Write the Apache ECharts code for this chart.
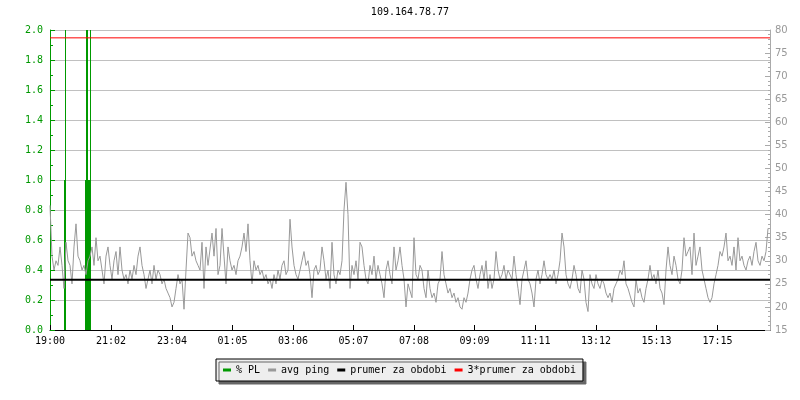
<!DOCTYPE html>
<html>
<head>
<meta charset="utf-8">
<script src="https://cdn.jsdelivr.net/npm/echarts@6/dist/echarts.min.js"></script>
<style>html,body{margin:0;padding:0;background:#fff}#c{width:800px;height:400px}</style>
</head>
<body>
<div id="c"></div>
<script>
// time axis: minutes since 19:00
const tickMinutes = [0, 122, 244, 365, 486, 607, 728, 849, 971, 1092, 1213, 1335];
const tickLabels = ['19:00', '21:02', '23:04', '01:05', '03:06', '05:07', '07:08', '09:09', '11:11', '13:12', '15:13', '17:15'];
const pingStepMinutes = 4;
// avg ping (ms), one value every 4 minutes from 19:00
const pingValues = [
  42, 31, 28, 30, 29, 33, 29, 24, 34, 30,
  29, 25, 33, 38, 31, 30, 28, 29, 27, 30,
  31, 33, 29, 35, 30, 31, 28, 25, 31, 33,
  29, 26, 30, 32, 27, 33, 28, 26, 27, 25,
  28, 26, 29, 27, 31, 33, 29, 27, 24, 26,
  28, 25, 29, 26, 28, 27, 25, 26, 24, 23,
  22, 20, 21, 24, 27, 25, 26, 19.5, 28, 36,
  35, 31, 32, 30, 29, 28, 34, 24, 33, 29,
  29, 36, 31, 37, 27, 29, 37, 31, 25, 33,
  30, 28, 29, 27, 30, 31, 33, 36, 32, 38,
  30, 25, 30, 28, 29, 27, 28, 26, 27, 25,
  26, 24, 27, 25, 28, 26, 29, 30, 27, 28,
  39, 33, 29, 27, 26, 28, 30, 32, 29, 30,
  27, 22, 28, 29, 27, 28, 33, 30, 26, 28,
  24, 34, 27, 25, 28, 27, 30, 41, 47, 40,
  24, 29, 27, 30, 26, 34, 33, 29, 26, 25,
  29, 27, 31, 26, 29, 27, 25, 22, 28, 30,
  27, 25, 33, 28, 30, 33, 29, 26, 20, 25,
  25, 22, 35, 27, 26, 29, 28, 24, 22, 28,
  24, 22, 23, 21, 25, 26, 32, 27, 25, 23,
  24, 22, 23, 21, 22, 20, 19.5, 22, 21, 23,
  26, 28, 29, 26, 24, 27, 29, 26, 30, 24,
  27, 24, 26, 32, 28, 26, 27, 29, 26, 28,
  28, 26, 31, 27, 24, 20.5, 26, 28, 30, 26,
  25, 23, 20, 26, 28, 25, 27, 30, 27, 26,
  27, 26, 28, 25, 27, 30, 36, 33, 27, 25,
  24, 26, 29, 27, 24, 23, 28, 26, 21, 19,
  27, 25, 24, 27, 25, 24, 26, 25, 23, 22,
  23, 21, 24, 25, 26, 28, 27, 30, 25, 24,
  24, 21, 20, 26, 23, 24, 22, 21, 24, 26,
  29, 26, 27, 25, 28, 24, 23, 20.5, 28, 33,
  29, 27, 31, 29, 26, 25, 28, 35, 31, 32,
  33, 27, 36, 29, 31, 33, 28, 26, 24, 22,
  21, 22, 25, 27, 29, 32, 31, 33, 36, 30,
  31, 29, 33, 28, 35, 30, 31, 29, 28, 30,
  31, 29, 32, 34, 30, 29, 31, 30, 32, 37
];
// packet loss (%), only non-zero samples
const plMinutes = [29, 31, 71, 73, 75, 77, 79, 81];
const plValues = [1, 2, 1, 2, 2, 1, 1, 2];
const prumer = 25.9;
const trojPrumer = 78.3;
const xMax = 1440;

const MONO = '"DejaVu Sans Mono", monospace';
const GREEN = '#009900';
const GRAY = '#999999';

const pingData = pingValues.map((v, i) => [i * pingStepMinutes, v]);
const plData = plMinutes.map((t, i) => [t, plValues[i]]);

const chart = echarts.init(document.getElementById('c'), null, {renderer: 'canvas'});
chart.setOption({
  animation: false,
  backgroundColor: '#ffffff',
  title: {
    text: '109.164.78.77', left: 410, top: 7, padding: 0, textAlign: 'center',
    textStyle: {fontFamily: MONO, fontSize: 10, fontWeight: 'normal', color: '#000'}
  },
  legend: {
    left: 216, top: 359, padding: [6, 7], itemGap: 8, itemWidth: 8, itemHeight: 3,
    selectedMode: false,
    backgroundColor: '#eeeeee', borderColor: '#000', borderWidth: 1,
    shadowColor: '#666666', shadowOffsetX: 3, shadowOffsetY: 3, shadowBlur: 0,
    textStyle: {fontFamily: MONO, fontSize: 10, color: '#000'},
    data: [
      {name: '% PL', icon: 'rect'},
      {name: 'avg ping', icon: 'rect'},
      {name: 'prumer za obdobi', icon: 'rect'},
      {name: '3*prumer za obdobi', icon: 'rect'}
    ]
  },
  grid: {left: 50, right: 30, top: 30, bottom: 70, containLabel: false},
  xAxis: {
    type: 'value', min: 0, max: xMax,
    splitLine: {show: false},
    axisLine: {show: true, lineStyle: {color: '#000', width: 1}},
    axisTick: {show: true, inside: true, length: 5, customValues: tickMinutes, lineStyle: {color: '#000'}},
    axisLabel: {
      customValues: tickMinutes, margin: 6, color: '#000', fontFamily: MONO, fontSize: 10,
      formatter: function (v) {
        let best = 0;
        for (let i = 0; i < tickMinutes.length; i++) {
          if (Math.abs(tickMinutes[i] - v) < Math.abs(tickMinutes[best] - v)) best = i;
        }
        return tickLabels[best];
      }
    }
  },
  yAxis: [
    {
      type: 'value', position: 'left', min: 0, max: 2, interval: 0.2,
      splitLine: {show: true, lineStyle: {color: '#c0c0c0', width: 1}},
      axisLine: {show: true, lineStyle: {color: GREEN, width: 1}},
      axisTick: {show: true, inside: true, length: 5, lineStyle: {color: GREEN}},
      minorTick: {show: true, splitNumber: 2, length: 3, lineStyle: {color: GREEN}},
      axisLabel: {color: GREEN, fontFamily: MONO, fontSize: 10, margin: 7, formatter: v => v.toFixed(1)}
    },
    {
      type: 'value', position: 'right', min: 15, max: 80, interval: 5,
      splitLine: {show: false},
      axisLine: {show: true, lineStyle: {color: '#aaaaaa', width: 1}},
      axisTick: {show: true, inside: true, length: 5, lineStyle: {color: '#aaaaaa'}},
      minorTick: {show: true, splitNumber: 5, length: 2, lineStyle: {color: '#aaaaaa'}},
      axisLabel: {color: GRAY, fontFamily: '"DejaVu Sans", sans-serif', fontSize: 10, margin: 5}
    }
  ],
  series: [
    {
      name: '% PL', type: 'bar', yAxisIndex: 0, barWidth: 1, data: plData,
      itemStyle: {color: GREEN}, color: GREEN, z: 2
    },
    {
      name: 'avg ping', type: 'line', yAxisIndex: 1, data: pingData, showSymbol: false, symbol: 'none',
      lineStyle: {color: GRAY, width: 1}, itemStyle: {color: GRAY}, color: GRAY, z: 3
    },
    {
      name: 'prumer za obdobi', type: 'line', yAxisIndex: 1, data: [[0, prumer], [xMax, prumer]],
      showSymbol: false, symbol: 'none', lineStyle: {color: '#000', width: 2}, itemStyle: {color: '#000'}, color: '#000', z: 4
    },
    {
      name: '3*prumer za obdobi', type: 'line', yAxisIndex: 1, data: [[0, trojPrumer], [xMax, trojPrumer]],
      showSymbol: false, symbol: 'none', lineStyle: {color: '#ff0000', width: 1}, itemStyle: {color: '#ff0000'}, color: '#ff0000', z: 4
    }
  ]
});
</script>
</body>
</html>
